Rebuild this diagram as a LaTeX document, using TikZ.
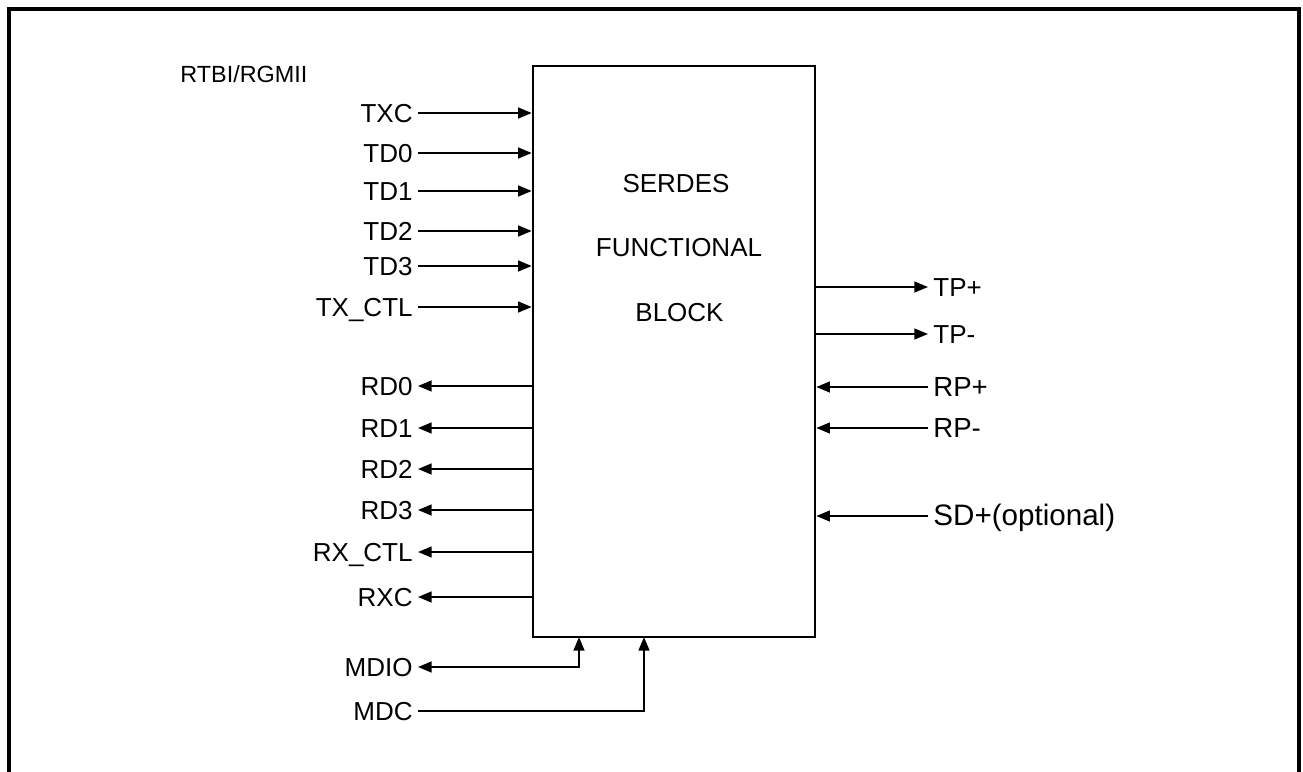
\documentclass[tikz,border=0pt]{standalone}
\usepackage{fontspec}
\setmainfont{Liberation Sans}
\usepackage{tikz}
\usetikzlibrary{arrows.meta}

\begin{document}
\begin{tikzpicture}[x=0.5pt,y=0.5pt]
			\tikzset{every node/.style={inner sep=0pt},
				pinlabel/.style={font=\fontsize{13}{15}\selectfont,text height=0.9em,text depth=0pt,inner sep=2.5pt},
				signal/.style={line width=0.95pt,-{Triangle[length=6.8pt,width=5.4pt]}},
				both signal/.style={line width=0.95pt,{Triangle[length=6.8pt,width=5.4pt]}-{Triangle[length=6.8pt,width=5.4pt]}}}
			\useasboundingbox (0,0) rectangle (1303,-772);
			% outer frame, bottom edge cut off
			\draw [black,line width=1.7pt] (9,-772) -- (9,-9) -- (1299,-9) -- (1299,-772);
			% the block
			\node [draw,black,line width=1.3pt,minimum width=141pt,minimum height=285.5pt] (serdes) at (674,-351.5) {};
			\node [pinlabel] (serdestitle) at (676,-183) {SERDES};
			\node [pinlabel] (functional) at (679,-247.5) {FUNCTIONAL};
			\node [pinlabel] (block) at (679.5,-312) {BLOCK};
			\node [anchor=west,font=\fontsize{11.7}{14}\selectfont] (bus) at (180,-74) {RTBI/RGMII};
			% transmit side inputs
			\node [pinlabel,anchor=east] (txc) at (418,-113) {TXC};
			\draw [signal] (txc) -- (txc -| serdes.west);
			\node [pinlabel,anchor=east] (td0) at (418,-153) {TD0};
			\draw [signal] (td0) -- (td0 -| serdes.west);
			\node [pinlabel,anchor=east] (td1) at (418,-191) {TD1};
			\draw [signal] (td1) -- (td1 -| serdes.west);
			\node [pinlabel,anchor=east] (td2) at (418,-231) {TD2};
			\draw [signal] (td2) -- (td2 -| serdes.west);
			\node [pinlabel,anchor=east] (td3) at (418,-266) {TD3};
			\draw [signal] (td3) -- (td3 -| serdes.west);
			\node [pinlabel,anchor=east] (txctl) at (418,-307) {TX\_CTL};
			\draw [signal] (txctl) -- (txctl -| serdes.west);
			% receive side outputs
			\node [pinlabel,anchor=east] (rd0) at (418,-386) {RD0};
			\draw [signal] (rd0 -| serdes.west) -- (rd0);
			\node [pinlabel,anchor=east] (rd1) at (418,-428) {RD1};
			\draw [signal] (rd1 -| serdes.west) -- (rd1);
			\node [pinlabel,anchor=east] (rd2) at (418,-469) {RD2};
			\draw [signal] (rd2 -| serdes.west) -- (rd2);
			\node [pinlabel,anchor=east] (rd3) at (418,-510) {RD3};
			\draw [signal] (rd3 -| serdes.west) -- (rd3);
			\node [pinlabel,anchor=east] (rxctl) at (418,-552) {RX\_CTL};
			\draw [signal] (rxctl -| serdes.west) -- (rxctl);
			\node [pinlabel,anchor=east] (rxc) at (418,-597) {RXC};
			\draw [signal] (rxc -| serdes.west) -- (rxc);
			% management
			\coordinate (mdiopin) at (579,-637);
			\coordinate (mdcpin) at (644,-637);
			\node [pinlabel,anchor=east] (mdio) at (418,-667) {MDIO};
			\draw [both signal] (mdio) -| (mdiopin);
			\node [pinlabel,anchor=east] (mdc) at (418,-711) {MDC};
			\draw [signal] (mdc) -| (mdcpin);
			% line side
			\node [pinlabel,anchor=west] (tpp) at (928,-287) {TP+};
			\draw [signal] (tpp -| serdes.east) -- (tpp);
			\node [pinlabel,anchor=west] (tpm) at (928,-334) {TP-};
			\draw [signal] (tpm -| serdes.east) -- (tpm);
			\node [pinlabel,anchor=west,font=\fontsize{13.8}{16}\selectfont] (rpp) at (928,-387) {RP+};
			\draw [signal] (rpp) -- (rpp -| serdes.east);
			\node [pinlabel,anchor=west,font=\fontsize{13.8}{16}\selectfont] (rpm) at (928,-428) {RP-};
			\draw [signal] (rpm) -- (rpm -| serdes.east);
			\node [pinlabel,anchor=west,font=\fontsize{14.8}{17}\selectfont] (sd) at (928,-516) {SD+(optional)};
			\draw [signal] (sd) -- (sd -| serdes.east);
			\end{tikzpicture}
\end{document}
